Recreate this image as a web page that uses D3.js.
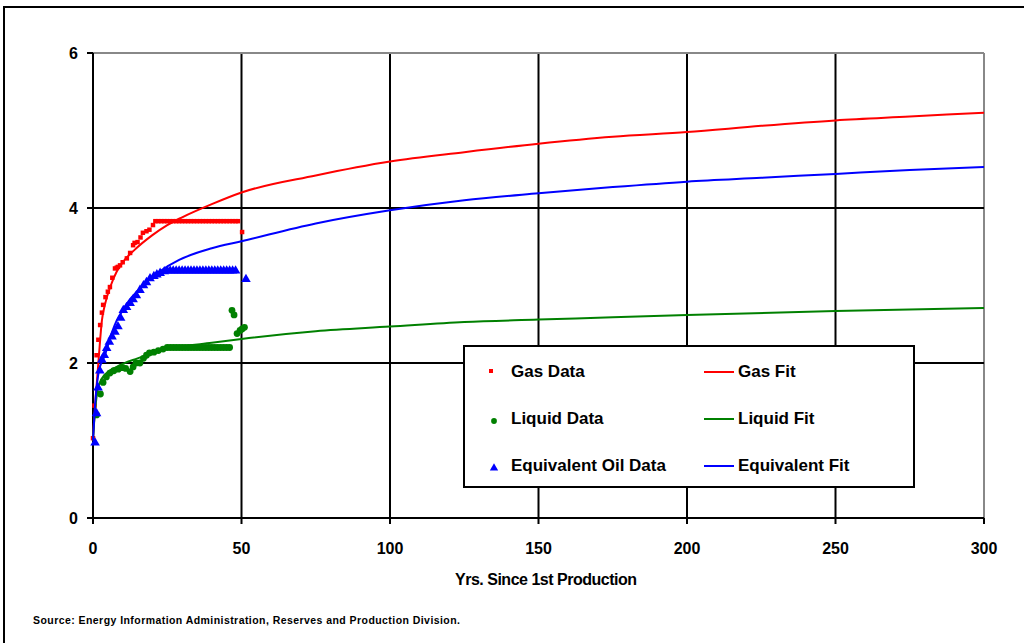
<!DOCTYPE html>
<html>
<head>
<meta charset="utf-8">
<script src="https://cdn.jsdelivr.net/npm/d3@7"></script>
<style>
  body { margin: 0; background: #fff; }
  svg { display: block; font-family: "Liberation Sans", Arial, sans-serif; }
</style>
</head>
<body>
<svg id="chart" width="1024" height="643"></svg>
<script>
// data: [years, value]
const gas_data = [
  [0, 1.03], [0.5, 1.45], [1.2, 2.1], [1.8, 2.3], [2.4, 2.49], [3, 2.65], [3.4, 2.75], [4.2, 2.85],
  [5, 2.92], [5.7, 2.98], [6.5, 3.1], [7.4, 3.22], [8, 3.23], [8.4, 3.24], [9.1, 3.26], [10, 3.3],
  [11.4, 3.35], [12.5, 3.42], [13.5, 3.52], [14, 3.55], [15, 3.56], [16, 3.62], [16.8, 3.68],
  [18, 3.7], [19, 3.72], [20.2, 3.78], [21, 3.83], [22, 3.83], [23, 3.83], [24, 3.83], [25, 3.83],
  [26, 3.83], [27, 3.83], [28, 3.83], [29, 3.83], [30, 3.83], [31, 3.83], [32, 3.83], [33, 3.83],
  [34, 3.83], [35, 3.83], [36, 3.83], [37, 3.83], [38, 3.83], [39, 3.83], [40, 3.83], [41, 3.83],
  [42, 3.83], [43, 3.83], [44, 3.83], [45, 3.83], [46, 3.83], [47, 3.83], [48, 3.83], [48.8, 3.83],
  [50.2, 3.69]
];
const liquid_data = [
  [1.2, 1.33], [2.5, 1.6], [3.4, 1.75], [4.5, 1.82], [5.7, 1.87], [7, 1.9], [8.5, 1.92], [10, 1.94],
  [11, 1.93], [12.5, 1.89], [13.5, 1.95], [14.5, 2.0], [15.8, 2.0], [17, 2.06], [18, 2.1], [19, 2.13],
  [20.5, 2.14], [22, 2.16], [23.6, 2.18], [25, 2.2], [26, 2.2], [27, 2.2], [28, 2.2], [29, 2.2],
  [30, 2.2], [31, 2.2], [32, 2.2], [33, 2.2], [34, 2.2], [35, 2.2], [36, 2.2], [37, 2.2], [38, 2.2],
  [39, 2.2], [40, 2.2], [41, 2.2], [42, 2.2], [43, 2.2], [44, 2.2], [45, 2.2], [46, 2.2],
  [46.8, 2.68], [47.5, 2.62], [48.5, 2.38], [49.5, 2.42], [50.2, 2.44], [51, 2.46]
];
const equiv_data = [
  [0.7, 0.97], [1.2, 1.35], [1.7, 1.68], [2.3, 1.9], [3, 2.04], [3.8, 2.1], [4.6, 2.19], [5.5, 2.27],
  [6.4, 2.34], [7.4, 2.4], [8.4, 2.47], [9.3, 2.58], [10.2, 2.68], [11.3, 2.72], [12.5, 2.77],
  [13.5, 2.82], [14.6, 2.87], [15.8, 2.94], [17, 3.0], [18, 3.04], [19.2, 3.09], [20.5, 3.12],
  [21.5, 3.14], [22.6, 3.16], [24, 3.18], [25, 3.19], [26, 3.19], [27, 3.19], [28, 3.19], [29, 3.19],
  [30, 3.19], [31, 3.19], [32, 3.19], [33, 3.19], [34, 3.19], [35, 3.19], [36, 3.19], [37, 3.19],
  [38, 3.19], [39, 3.19], [40, 3.19], [41, 3.19], [42, 3.19], [43, 3.19], [44, 3.19], [45, 3.19],
  [46, 3.19], [47, 3.19], [48, 3.19], [51.5, 3.08]
];

const gas_fit = [
  [0, 1.05], [1, 1.6], [2, 2.1], [3, 2.55], [4, 2.75], [6, 3.0], [8, 3.18], [10, 3.3], [14, 3.46],
  [20, 3.65], [25, 3.78], [30, 3.88], [40, 4.05], [50, 4.2], [75, 4.42], [100, 4.6], [125, 4.72],
  [150, 4.83], [175, 4.92], [200, 4.98], [225, 5.06], [250, 5.13], [275, 5.18], [300, 5.23]
];
const liquid_fit = [
  [0, 1.0], [0.5, 1.3], [1, 1.5], [2, 1.72], [4, 1.85], [8, 1.95], [15, 2.06], [22, 2.15],
  [28, 2.2], [40, 2.26], [50, 2.31], [75, 2.41], [100, 2.47], [125, 2.53], [150, 2.56],
  [175, 2.59], [200, 2.62], [250, 2.67], [300, 2.71]
];
const equiv_fit = [
  [0, 1.0], [0.5, 1.35], [1, 1.6], [2, 1.9], [4, 2.1], [6.4, 2.4], [8, 2.55], [10, 2.68], [12, 2.8],
  [15, 2.93], [18, 3.05], [22, 3.17], [29, 3.33], [40, 3.48], [50, 3.57], [75, 3.8], [100, 3.97],
  [125, 4.1], [150, 4.19], [175, 4.27], [200, 4.34], [225, 4.39], [250, 4.44], [275, 4.49], [300, 4.53]
];

const x_ticks = [0, 50, 100, 150, 200, 250, 300];
const y_ticks = [0, 2, 4, 6];

const legend_items = [
  {label: "Gas Data", kind: "square", color: "#ff0000"},
  {label: "Gas Fit", kind: "line", color: "#ff0000"},
  {label: "Liquid Data", kind: "circle", color: "#008000"},
  {label: "Liquid Fit", kind: "line", color: "#008000"},
  {label: "Equivalent Oil Data", kind: "triangle", color: "#0000ff"},
  {label: "Equivalent Fit", kind: "line", color: "#0000ff"}
];

const svg = d3.select("#chart");

// outer frame
svg.append("rect")
  .attr("x", 4).attr("y", 7).attr("width", 1040).attr("height", 660)
  .attr("fill", "none").attr("stroke", "#000").attr("stroke-width", 2);

const x = d3.scaleLinear().domain([0, 300]).range([93, 984]);
const y = d3.scaleLinear().domain([0, 6]).range([518, 53]);

// grid
const grid = svg.append("g");
grid.selectAll(".vg").data(x_ticks).join("line")
  .attr("x1", d => x(d)).attr("x2", d => x(d))
  .attr("y1", y(6)).attr("y2", y(0) + 6)
  .attr("stroke", d => d === 300 ? "#888" : "#000")
  .attr("stroke-width", 2);
grid.selectAll(".hg").data(y_ticks).join("line")
  .attr("x1", x(0) - 6).attr("x2", x(300))
  .attr("y1", d => y(d)).attr("y2", d => y(d))
  .attr("stroke", d => d === 6 ? "#888" : "#000")
  .attr("stroke-width", 2);
// tick stubs past the gray frame
grid.append("line")
  .attr("x1", x(300)).attr("x2", x(300)).attr("y1", y(0)).attr("y2", y(0) + 6)
  .attr("stroke", "#000").attr("stroke-width", 2);
grid.append("line")
  .attr("x1", x(0) - 6).attr("x2", x(0)).attr("y1", y(6)).attr("y2", y(6))
  .attr("stroke", "#000").attr("stroke-width", 2);
grid.append("line")
  .attr("x1", x(0)).attr("x2", x(0)).attr("y1", y(6)).attr("y2", y(0) + 6)
  .attr("stroke", "#000").attr("stroke-width", 2);

// tick labels
svg.append("g").selectAll("text").data(x_ticks).join("text")
  .attr("x", d => x(d)).attr("y", 554)
  .attr("text-anchor", "middle")
  .attr("font-size", 16).attr("font-weight", "bold")
  .text(d => d);
svg.append("g").selectAll("text").data(y_ticks).join("text")
  .attr("x", 78).attr("y", d => y(d) + 6)
  .attr("text-anchor", "end")
  .attr("font-size", 16).attr("font-weight", "bold")
  .text(d => d);

svg.append("text")
  .attr("x", 546).attr("y", 585)
  .attr("text-anchor", "middle")
  .attr("font-size", 16).attr("font-weight", "bold")
  .attr("textLength", 182)
  .text("Yrs. Since 1st Production");

svg.append("text")
  .attr("x", 33).attr("y", 624)
  .attr("font-size", 10.5).attr("font-weight", "bold")
  .attr("textLength", 427)
  .text("Source: Energy Information Administration, Reserves and Production Division.");

// series
const line = d3.line()
  .x(d => x(d[0]))
  .y(d => y(d[1]))
  .curve(d3.curveMonotoneX);

const sym = {
  square: d3.symbol().type(d3.symbolSquare).size(20),
  circle: d3.symbol().type(d3.symbolCircle).size(36),
  triangle: d3.symbol().type(d3.symbolTriangle).size(40)
};

const drawPoints = function(data, kind, color) {
  svg.append("g").selectAll("path").data(data).join("path")
    .attr("transform", d => `translate(${x(d[0])},${y(d[1])})`)
    .attr("d", sym[kind]())
    .attr("fill", color);
};
const drawFit = function(data, color) {
  svg.append("path")
    .datum(data)
    .attr("d", line)
    .attr("fill", "none")
    .attr("stroke", color)
    .attr("stroke-width", 2);
};

drawPoints(gas_data, "square", "#ff0000");
drawFit(gas_fit, "#ff0000");
drawPoints(liquid_data, "circle", "#008000");
drawFit(liquid_fit, "#008000");
drawPoints(equiv_data, "triangle", "#0000ff");
drawFit(equiv_fit, "#0000ff");

// legend
const lg = svg.append("g");
lg.append("rect")
  .attr("x", 464).attr("y", 346).attr("width", 450).attr("height", 141)
  .attr("fill", "#fff").attr("stroke", "#000").attr("stroke-width", 2);

const legend_sym = {
  square: d3.symbol().type(d3.symbolSquare).size(16),
  circle: d3.symbol().type(d3.symbolCircle).size(26),
  triangle: d3.symbol().type(d3.symbolTriangle).size(30)
};

legend_items.forEach((it, i) => {
  const row = Math.floor(i / 2);
  const col = i % 2;
  const cy = 371 + row * 47;
  if (col === 0) {
    lg.append("path")
      .attr("transform", `translate(${it.kind === "square" ? 491 : 494},${cy + (it.kind === "square" ? 0 : 3)})`)
      .attr("d", legend_sym[it.kind]())
      .attr("fill", it.color);
    lg.append("text")
      .attr("x", 511).attr("y", cy + 6)
      .attr("font-size", 17).attr("font-weight", "bold")
      .text(it.label);
  } else {
    lg.append("line")
      .attr("x1", 704).attr("x2", 734).attr("y1", cy + 1).attr("y2", cy + 1)
      .attr("stroke", it.color).attr("stroke-width", 2);
    lg.append("text")
      .attr("x", 738).attr("y", cy + 6)
      .attr("font-size", 17).attr("font-weight", "bold")
      .text(it.label);
  }
});
</script>
</body>
</html>
